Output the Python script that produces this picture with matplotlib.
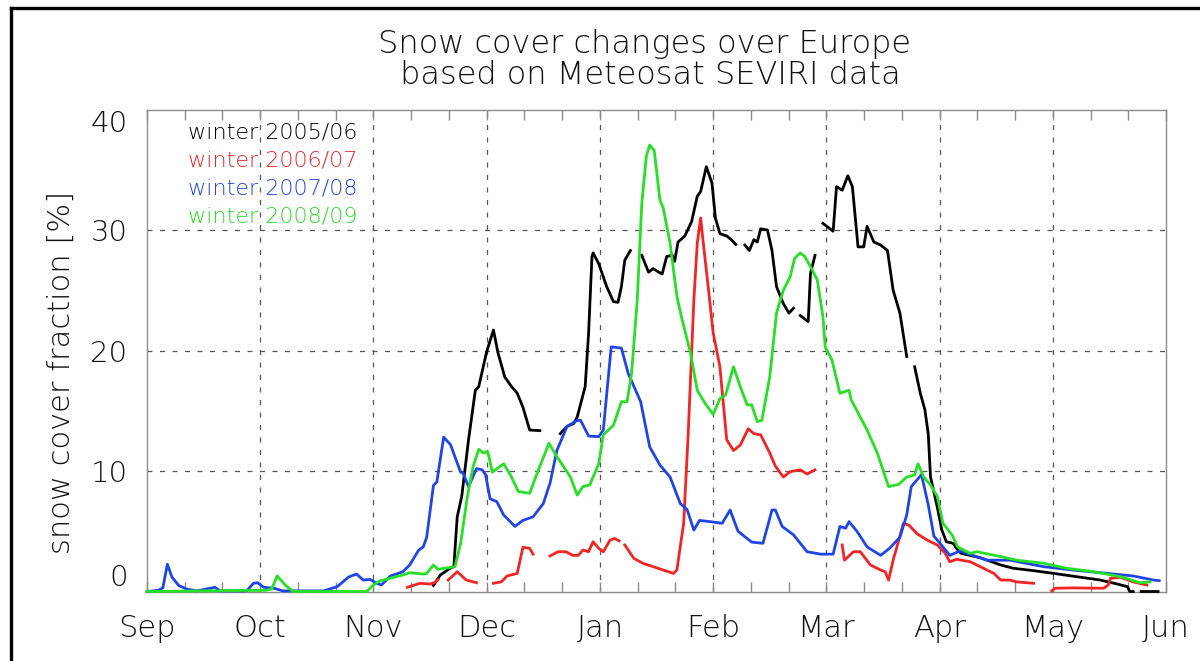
import matplotlib
matplotlib.use('Agg')
import matplotlib.pyplot as plt
import numpy as np
from matplotlib.lines import Line2D
from matplotlib.ticker import MultipleLocator

plt.rcParams['font.family'] = ['DejaVu Sans']
plt.rcParams['font.weight'] = 'light'

nan = np.nan

month_names = ['Sep', 'Oct', 'Nov', 'Dec', 'Jan', 'Feb', 'Mar', 'Apr', 'May', 'Jun']
seasons = ['winter 2005/06', 'winter 2006/07', 'winter 2007/08', 'winter 2008/09']

# time axis: months since 1 September, snow fraction in %
# nan marks days without valid SEVIRI retrieval
w0506_month = [2.53, 2.59, 2.69, 2.71, 2.74, 2.78, 2.84, 2.90, 2.93, 3.00, 3.06, 3.10, 3.16,
               3.22, 3.27, 3.32, 3.38, 3.47, nan,
               3.65, 3.71, 3.77, 3.80, 3.87, 3.90, 3.93, 3.94, 3.99, 4.06, 4.12, 4.16, 4.19,
               4.22, 4.27, nan,
               4.37, 4.43, 4.47, 4.52, 4.55, 4.59, 4.64, 4.66, 4.69, 4.75, 4.81, 4.86, 4.89,
               4.94, 4.99, 5.02, 5.06, 5.12, 5.16, 5.20, nan,
               5.28, 5.32, 5.36, 5.39, 5.42, 5.48, 5.52, 5.56, 5.62, 5.67, 5.71, nan,
               5.77, 5.84, 5.86, 5.90, nan,
               5.97, 6.06, 6.09, 6.14, 6.19, 6.23, 6.28, 6.33, 6.36, 6.42, 6.48, 6.54, 6.59,
               6.65, 6.71, nan,
               6.78, 6.83, 6.87, 6.90, 6.92, 6.98, 7.02, 7.06, 7.12, 7.15, 7.19, 7.36, 7.54,
               7.65, 7.83, 8.01, 8.21, 8.42, 8.57, 8.66, 8.68, 8.71, nan,
               8.78, 8.93]
w0506_frac = [0.5, 1.37, 2.0, 2.06, 6.2, 7.9, 12.6, 16.7, 17.0, 19.9, 21.7, 19.8, 17.8,
              17.0, 16.45, 15.3, 13.4, 13.35, nan,
              13.1, 13.7, 13.95, 14.5, 17.0, 21.4, 27.8, 28.1, 27.2, 25.3, 24.05, 24.0, 25.3,
              27.5, 28.3, nan,
              27.9, 26.5, 26.8, 26.5, 26.35, 27.8, 27.9, 27.4, 29.0, 29.5, 30.7, 32.8, 33.2,
              35.25, 33.9, 31.0, 29.7, 29.5, 29.2, 28.8, nan,
              28.75, 28.3, 29.2, 29.0, 30.1, 30.0, 28.3, 25.3, 23.9, 23.1, 23.5, nan,
              22.9, 22.4, 26.4, 27.9, nan,
              30.55, 29.9, 33.6, 33.3, 34.5, 33.6, 28.6, 28.6, 30.3, 29.0, 28.75, 28.3, 25.0,
              23.1, 19.5, nan,
              18.65, 16.45, 15.1, 13.1, 9.5, 7.0, 5.1, 4.13, 4.0, 3.58, 3.17, 2.8, 2.2,
              1.93, 1.73, 1.5, 1.23, 0.95, 0.62, 0.4, 0.0, 0.0, nan,
              0.0, 0.0]

w0607_month = [2.30, 2.41, 2.50, 2.54, 2.57, nan,
               2.66, 2.74, 2.82, 2.91, nan,
               3.06, 3.13, 3.18, 3.27, 3.32, 3.38, 3.41, nan,
               3.56, 3.63, 3.70, 3.76, 3.81, 3.85, 3.90, 3.94, 3.99, 4.03, 4.09, 4.13, 4.17, nan,
               4.22, 4.30, 4.38, 4.47, 4.56, 4.65, 4.68, 4.74, 4.78, 4.83, 4.86, 4.89, 4.91,
               4.96, 5.00, 5.06, 5.12, 5.18, 5.24, 5.31, 5.36, 5.42, 5.50, 5.55, 5.62, 5.68,
               5.77, 5.83, 5.90, nan,
               6.14, 6.16, 6.24, 6.30, 6.39, 6.48, 6.52, 6.55, 6.59, 6.64, 6.68, 6.73, 6.80,
               6.89, 6.98, 7.05, 7.09, 7.15, 7.27, 7.36, 7.48, 7.54, 7.62, 7.68, 7.83, nan,
               7.99, 8.02, 8.18, 8.45, 8.49, 8.51, 8.60, 8.71, 8.83]
w0607_frac = [0.35, 0.68, 0.62, 0.73, 1.0, nan,
              0.95, 1.64, 0.95, 0.73, nan,
              0.68, 0.8, 1.29, 1.5, 3.67, 3.58, 3.1, nan,
              2.95, 3.3, 3.3, 3.0, 3.0, 3.44, 3.3, 4.13, 3.58, 3.3, 4.27, 4.4, 4.2, nan,
              3.86, 2.75, 2.34, 2.06, 1.78, 1.5, 1.78, 5.66, 13.1, 24.2, 28.9, 31.0, 29.2,
              25.0, 21.5, 18.65, 12.6, 11.7, 12.15, 13.5, 13.1, 13.0, 11.5, 10.4, 9.5, 9.94,
              10.1, 9.75, 10.1, nan,
              3.86, 2.6, 3.3, 3.3, 2.2, 1.78, 1.64, 0.95, 2.6, 4.27, 5.66, 5.5, 4.8,
              4.27, 3.86, 3.17, 2.47, 2.67, 2.47, 2.06, 1.5, 0.95, 0.95, 0.8, 0.68, nan,
              0.05, 0.27, 0.3, 0.27, 0.54, 1.1, 1.18, 0.8, 0.54]

w0708_month = [0.00, 0.10, 0.14, 0.18, 0.22, 0.28, 0.35, 0.44, 0.60, 0.645, 0.88, 0.94, 0.975,
               1.03, 1.12, 1.20, 1.56, 1.68, 1.78, 1.85, 1.91, 1.97, 2.03, 2.07, 2.15, 2.26,
               2.32, 2.40, 2.44, 2.47, 2.53, 2.56, 2.62, 2.68, 2.77, 2.79, 2.84, 2.91, 2.96,
               2.99, 3.03, 3.09, 3.15, 3.25, 3.32, 3.41, 3.50, 3.56, 3.62, 3.71, 3.80, 3.83,
               3.90, 3.99, 4.03, 4.10, 4.19, 4.25, 4.36, 4.44, 4.53, 4.62, 4.71, 4.77, 4.83,
               4.88, 4.97, 5.08, 5.15, 5.22, 5.34, 5.44, 5.52, 5.55, 5.61, 5.71, 5.83, 5.95,
               6.06, 6.12, 6.17, 6.20, 6.27, 6.36, 6.48, 6.56, 6.65, 6.71, 6.75, 6.84, 6.90,
               6.95, 7.03, 7.09, 7.18, 7.42, 7.62, 7.92, 8.18, 8.42, 8.71, 8.89, 8.94]
w0708_frac = [0.0, 0.1, 0.3, 2.26, 1.2, 0.5, 0.2, 0.05, 0.35, 0.05, 0.05, 0.68, 0.73,
              0.35, 0.27, 0.05, 0.05, 0.4, 1.2, 1.45, 0.95, 1.0, 0.68, 0.54, 1.29, 1.64,
              2.2, 3.44, 3.7, 4.5, 8.8, 9.1, 12.8, 12.2, 9.9, 9.86, 8.7, 10.2, 10.1,
              9.7, 7.7, 7.45, 6.35, 5.4, 5.9, 6.2, 7.3, 9.0, 11.7, 13.7, 14.2, 14.2,
              12.9, 12.85, 13.4, 20.3, 20.2, 18.1, 15.75, 12.0, 10.5, 9.5, 7.3, 6.8, 5.1,
              5.9, 5.8, 5.66, 6.76, 5.0, 4.1, 4.0, 6.76, 6.76, 5.4, 4.7, 3.3, 3.1,
              3.1, 5.4, 5.25, 5.8, 5.0, 3.7, 3.0, 3.6, 4.5, 6.35, 8.7, 9.7, 7.2,
              4.6, 3.7, 3.0, 3.36, 2.6, 2.6, 2.06, 1.78, 1.56, 1.29, 0.95, 0.9]

w0809_month = [0.00, 0.50, 1.05, 1.10, 1.15, 1.22, 1.29, 1.94, 2.00, 2.06, 2.09, 2.18, 2.26,
               2.32, 2.44, 2.47, 2.53, 2.57, 2.72, 2.77, 2.83, 2.88, 2.93, 2.97, 3.01, 3.05,
               3.15, 3.21, 3.28, 3.38, 3.44, 3.55, 3.62, 3.74, 3.80, 3.85, 3.91, 3.99, 4.03,
               4.12, 4.19, 4.24, 4.28, 4.33, 4.37, 4.41, 4.44, 4.48, 4.53, 4.56, 4.62, 4.68,
               4.72, 4.80, 4.86, 4.93, 5.00, 5.06, 5.11, 5.18, 5.24, 5.30, 5.34, 5.39, 5.43,
               5.50, 5.56, 5.62, 5.68, 5.72, 5.77, 5.81, 5.87, 5.92, 5.97, 5.99, 6.05, 6.12,
               6.20, 6.22, 6.36, 6.45, 6.55, 6.64, 6.71, 6.78, 6.81, 6.86, 6.92, 6.98, 7.03,
               7.11, 7.16, 7.27, 7.33, 7.54, 7.68, 7.92, 8.12, 8.36, 8.60, 8.77, 8.86]
w0809_frac = [0.0, 0.05, 0.1, 0.2, 1.29, 0.54, 0.0, 0.0, 0.54, 0.9, 0.95, 1.18, 1.37,
              1.56, 1.45, 1.5, 2.2, 1.84, 2.06, 4.0, 7.9, 10.36, 11.8, 11.5, 11.6, 9.9,
              10.6, 9.67, 8.3, 8.15, 9.67, 12.3, 11.2, 9.5, 8.0, 8.7, 8.84, 10.6, 13.0,
              13.8, 15.75, 15.75, 18.1, 24.2, 32.2, 36.1, 37.05, 36.6, 32.5, 31.8, 28.9, 24.5,
              22.8, 19.8, 16.7, 15.6, 14.7, 16.0, 16.3, 18.65, 17.0, 15.5, 15.5, 14.1, 14.2,
              17.8, 23.1, 25.0, 26.1, 27.65, 28.1, 27.8, 26.8, 25.85, 22.8, 20.3, 19.2, 16.45,
              16.7, 15.9, 13.4, 11.5, 8.7, 8.9, 9.5, 9.67, 10.6, 9.5, 8.84, 7.9, 5.66,
              4.7, 3.7, 3.17, 3.3, 2.9, 2.6, 2.34, 1.93, 1.64, 1.23, 0.73, 0.8]

colors = ['#000000', '#f22424', '#1f45e8', '#25e025']
text_color = '#111111'

fig = plt.figure(figsize=(12, 6.61), dpi=100)
ax = fig.add_axes([147 / 1200, 1 - 591.5 / 661, 1019 / 1200, 482 / 661])

# dashed grid at month boundaries and every 10 %
for m in range(1, 9):
    ax.axvline(m, color='#555555', lw=0.9, ls=(0, (4, 6)), zorder=1)
for v in (10, 20, 30):
    ax.axhline(v, color='#555555', lw=0.9, ls=(0, (4, 6)), zorder=1)

series = [(w0506_month, w0506_frac), (w0607_month, w0607_frac),
          (w0708_month, w0708_frac), (w0809_month, w0809_frac)]
for (x, y), c in zip(series, colors):
    ax.plot(x, y, color=c, lw=2.0, zorder=3, clip_on=False, solid_joinstyle='round')

ax.set_xlim(0, 9)
ax.set_ylim(0, 40)
ax.set_xticks(range(10))
ax.set_xticklabels(month_names)
ax.xaxis.set_minor_locator(MultipleLocator(1 / 3))
ax.set_yticks([0, 10, 20, 30, 40])
ax.set_yticklabels(['0', '10', '20', '30', '40'])

for s in ax.spines.values():
    s.set_color('#8c8c8c')
    s.set_linewidth(1.0)
ax.tick_params(which='both', direction='in', top=True, right=False, color='#8c8c8c', width=1.0)
ax.tick_params(which='both', axis='x', length=7)
ax.tick_params(axis='y', length=0)
ax.tick_params(axis='x', labelsize=22, pad=16, labelcolor=text_color)
ax.tick_params(axis='y', labelsize=21, pad=14, labelcolor=text_color)

yt = ax.yaxis.get_major_ticks()
yt[0].label1.set_va('bottom')
yt[-1].label1.set_va('top')

fig.text(61 / 1200, 1 - 372 / 661, 'snow cover fraction [%]', rotation=90,
         ha='center', va='center', fontsize=22, color=text_color)

fig.text(645 / 1200, 1 - 44 / 661, 'Snow cover changes over Europe',
         ha='center', va='center', fontsize=23, color=text_color)
fig.text(645 / 1200, 1 - 75 / 661, ' based on Meteosat SEVIRI data',
         ha='center', va='center', fontsize=23, color=text_color)

for i, (lab, c) in enumerate(zip(seasons, colors)):
    fig.text(188 / 1200, 1 - (132 + 28.3 * i) / 661, lab, color=c,
             ha='left', va='center', fontsize=16)

# page frame
fig.add_artist(Line2D([11 / 1200, 1.0], [1 - 8 / 661, 1 - 8 / 661],
                      transform=fig.transFigure, color='black', lw=2.4))
fig.add_artist(Line2D([11 / 1200, 11 / 1200], [0.0, 1 - 8 / 661],
                      transform=fig.transFigure, color='black', lw=2.4))

fig.savefig('out.png', dpi=100)
